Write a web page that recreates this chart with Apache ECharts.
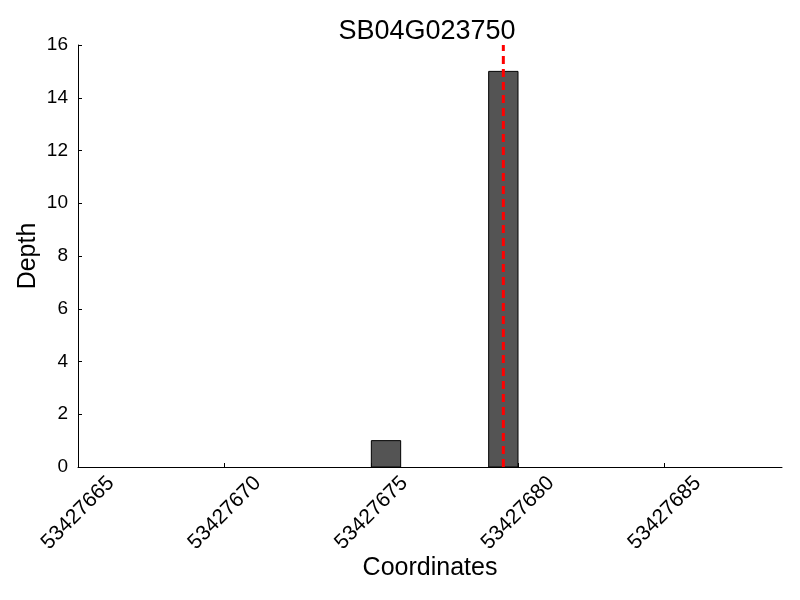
<!DOCTYPE html>
<html>
<head>
<meta charset="utf-8">
<script src="https://cdn.jsdelivr.net/npm/echarts@6/dist/echarts.min.js"></script>
<style>html,body{margin:0;padding:0;background:#fff}#c{width:800px;height:600px}</style>
</head>
<body>
<div id="c"></div>
<script>
var chartTitle = 'SB04G023750';
var barStarts = [53427675, 53427679];
var barDepths = [1, 15];
var barWidth = 1;
var markerPositions = [53427679.5];
var xTicks = [53427665, 53427670, 53427675, 53427680, 53427685];
var xMin = 53427665, xMax = 53427689, xStep = 5;
var yMin = 0, yMax = 16, yStep = 2;

var FONT = "'Liberation Sans', Arial, sans-serif";
var chart = echarts.init(document.getElementById('c'), null, {renderer: 'canvas'});

var barData = barStarts.map(function (s, i) { return [s, s + barWidth, barDepths[i]]; });
var lineData = [];
markerPositions.forEach(function (p) { lineData.push([p, yMin]); lineData.push([p, yMax]); });

chart.setOption({
  animation: false,
  backgroundColor: '#fff',
  title: {
    text: chartTitle, left: 422, top: 13, textAlign: 'center',
    textStyle: {fontFamily: FONT, fontSize: 27, fontWeight: 'normal', color: '#000'}
  },
  grid: {left: 78, right: 18, top: 45, bottom: 133, containLabel: false},
  xAxis: {
    type: 'value', min: xMin, max: xMax, interval: xStep,
    name: 'Coordinates', nameLocation: 'middle', nameGap: 89, nameMoveOverlap: false,
    nameTextStyle: {fontFamily: FONT, fontSize: 25, color: '#000'},
    axisLine: {show: true, lineStyle: {color: '#000', width: 1}},
    axisTick: {show: true, inside: true, length: 4, lineStyle: {color: '#000'}, customValues: xTicks},
    axisLabel: {
      rotate: 45, align: 'center', verticalAlign: 'middle', margin: 46,
      fontFamily: FONT, fontSize: 21, color: '#000', customValues: xTicks,
      formatter: function (v) { return String(v); }
    },
    splitLine: {show: false}
  },
  yAxis: {
    type: 'value', min: yMin, max: yMax, interval: yStep,
    name: 'Depth', nameLocation: 'middle', nameGap: 37, nameMoveOverlap: false,
    nameTextStyle: {fontFamily: FONT, fontSize: 25, color: '#000'},
    axisLine: {show: true, lineStyle: {color: '#000', width: 1}},
    axisTick: {show: true, inside: true, length: 4, lineStyle: {color: '#000'}},
    axisLabel: {margin: 10, fontFamily: FONT, fontSize: 19, color: '#000'},
    splitLine: {show: false}
  },
  series: [
    {
      type: 'custom',
      data: barData,
      renderItem: function (params, api) {
        var p0 = api.coord([api.value(0), api.value(2)]);
        var p1 = api.coord([api.value(1), 0]);
        return {
          type: 'rect',
          shape: {x: p0[0], y: p0[1], width: p1[0] - p0[0], height: p1[1] - p0[1]},
          style: {fill: '#545454', stroke: '#000', lineWidth: 1}
        };
      },
      encode: {x: [0, 1], y: 2}
    },
    {
      type: 'line', data: lineData, symbol: 'none', z: 5,
      lineStyle: {color: '#ff0000', width: 3, type: [8, 5]}
    }
  ]
});
</script>
</body>
</html>
